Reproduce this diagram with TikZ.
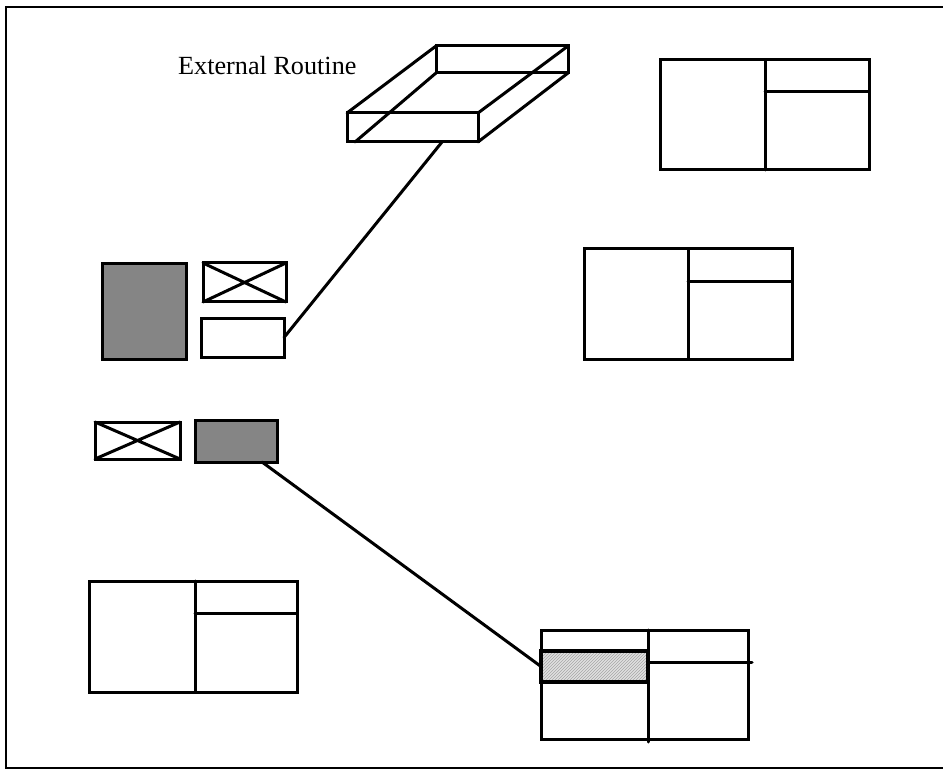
\documentclass[tikz,border=0pt]{standalone}
\usepackage{fontspec}
\setmainfont{Liberation Serif}
\usetikzlibrary{patterns}
\begin{document}
\begin{tikzpicture}[x=1pt,y=-1pt,
  ln/.style={line width=3pt,line cap=round,line join=miter},
  frameline/.style={line width=2.4pt},
  boxnode/.style={draw,line width=3pt,inner sep=0pt,outer sep=0pt,anchor=north west},
  stipple/.style={boxnode,fill=black!48},
  crossbox/.style={boxnode},
  hatchbox/.style={boxnode,line width=3.6pt,preaction={fill=black!12},pattern=north east lines,pattern color=black!35},
  label/.style={font=\fontsize{26.2}{31}\selectfont,anchor=base west,inner sep=0pt}]
\useasboundingbox (0,0) rectangle (943,770);

% page frame
\draw[frameline] (943,7) -- (6,7) -- (6,768) -- (943,768);

% external routine tray
\node[label] (ext) at (178,75) {External Routine};
\draw[ln] (436,46) rectangle (568,73);
\draw[ln] (347,113) rectangle (478,142);
\draw[ln] (347,113) -- (436,46);
\draw[ln] (478,113) -- (568,46);
\draw[ln] (478,142) -- (568,73);
\draw[ln] (355,142) -- (436,73);
\coordinate (trayfoot) at (442,142);

% upper group of small boxes
\node[stipple,minimum width=84,minimum height=95] (sh1) at (102,264) {};
\node[crossbox,minimum width=83,minimum height=39] (cx1) at (203,263) {};
\draw[ln] (cx1.north west) -- (cx1.south east) (cx1.south west) -- (cx1.north east);
\node[boxnode,minimum width=83,minimum height=39] (rt1) at (201,318) {};

% lower group of small boxes
\node[crossbox,minimum width=85,minimum height=37] (cx2) at (95,422) {};
\draw[ln] (cx2.north west) -- (cx2.south east) (cx2.south west) -- (cx2.north east);
\node[stipple,minimum width=82,minimum height=42] (sh2) at (195,420) {};

% split panels
\node[boxnode,minimum width=209,minimum height=110] (pa) at (660,60) {};
\draw[ln] (765,60) -- (765,170) (765,92) -- (869,92);
\node[boxnode,minimum width=208,minimum height=110] (pb) at (584,249) {};
\draw[ln] (688,249) -- (688,359) (688,282) -- (792,282);
\node[boxnode,minimum width=208,minimum height=111] (pc) at (89,581) {};
\draw[ln] (195,581) -- (195,692) (195,613) -- (297,613);
\node[boxnode,minimum width=207,minimum height=109] (pd) at (541,630) {};
\draw[ln] (648,630) -- (648,742) (648,662) -- (752,662);
\node[hatchbox,minimum width=107,minimum height=31] (hx) at (541,651) {};

% connectors
\path (sh2.south east) ++(-15,0) coordinate (shfoot);
\draw[ln] (trayfoot) -- (rt1.east);
\draw[ln] (shfoot) -- (hx.west);
\end{tikzpicture}
\end{document}
